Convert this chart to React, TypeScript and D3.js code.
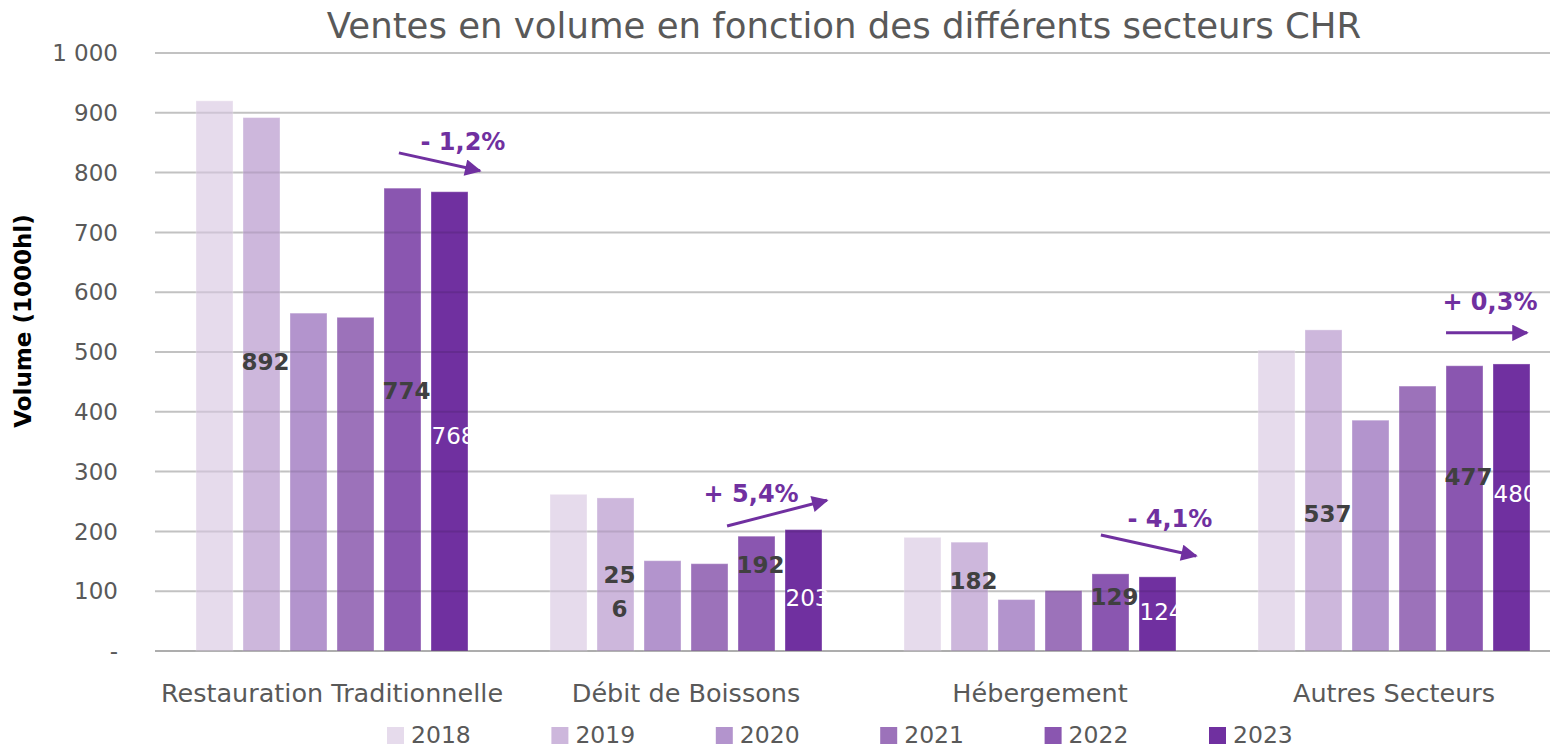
import React from "react";
import * as d3 from "d3";

const categories = ["Restauration Traditionnelle", "Débit de Boissons", "Hébergement", "Autres Secteurs"];
const years = ["2018", "2019", "2020", "2021", "2022", "2023"];
const v2018 = [920, 262, 190, 503];
const v2019 = [892, 256, 182, 537];
const v2020 = [565, 151, 86, 386];
const v2021 = [558, 146, 101, 443];
const v2022 = [774, 192, 129, 477];
const v2023 = [768, 203, 124, 480];
const seriesValues = [v2018, v2019, v2020, v2021, v2022, v2023];
const yTicks = [0, 100, 200, 300, 400, 500, 600, 700, 800, 900, 1000];
const yTickLabels = ["-", "100", "200", "300", "400", "500", "600", "700", "800", "900", "1 000"];
const colors = ["#E6DBEC", "#CDB7DC", "#B394CD", "#9C72BA", "#8A56B0", "#7030A0"];
// labels shown for 2019, 2022, 2023 (anchor in data units)
const labelYears = [1, 4, 5];
const labelTexts = [
  [["892"], ["25", "6"], ["182"], ["537"]],
  [["774"], ["192"], ["129"], ["477"]],
  [["768"], ["203"], ["124"], ["480"]],
];
const labelAnchor = [
  [483, 99, 117, 229],
  [436, 144, 90, 291],
  [360, 89, 65, 263],
];
const trendTexts = ["- 1,2%", "+ 5,4%", "- 4,1%", "+ 0,3%"];
// arrow as fractions of band width and data values
const arrowX0 = [0.689, 0.616, 0.672, 0.647];
const arrowX1 = [0.918, 0.898, 0.941, 0.876];
const arrowY0 = [833, 209, 194, 532];
const arrowY1 = [803, 252, 159, 532];
const trendTextX = [0.87, 0.684, 0.867, 0.771];
const trendTextY = [853, 264, 221, 584];

const W = 1565, H = 748;
const FONT = "'DejaVu Sans', sans-serif";

export default function App() {
  const x0 = d3.scaleBand<string>().domain(categories).range([155, 1571]).padding(0);
  const bw = x0.bandwidth();
  const x1 = d3.scaleBand<string>().domain(years).range([36, bw - 36]).paddingInner(0.2128).paddingOuter(0.1064);
  const y = d3.scaleLinear().domain([0, 1000]).range([651, 53]);
  const purple = "#7030A0";

  return (
    <svg width={W} height={H} style={{ position: "absolute", left: 0, top: 0, background: "#fff" }} fontFamily={FONT}>
      <defs>
        <marker id="ah" viewBox="0 0 10 10" refX="9" refY="5" markerWidth="6" markerHeight="5.5" markerUnits="strokeWidth" orient="auto">
          <path d="M0,0 L10,5 L0,10 z" fill={purple} />
        </marker>
      </defs>
      <text x={844} y={38} textAnchor="middle" fontSize={35.5} fill="#595959">
        Ventes en volume en fonction des différents secteurs CHR
      </text>
      {yTicks.map((t, i) => (
        <line key={"g" + i} x1={155} x2={1550} y1={y(t)} y2={y(t)} stroke="#D9D9D9" strokeWidth={2} />
      ))}
      {categories.map((c, ci) => (
        <g key={c} transform={`translate(${x0(c)},0)`}>
          {years.map((yr, si) => (
            <rect key={yr} x={x1(yr)} width={x1.bandwidth()} y={y(seriesValues[si][ci])}
              height={y(0) - y(seriesValues[si][ci])} fill={colors[si]} stroke="#ffffff" strokeOpacity={0.35} strokeWidth={1} />
          ))}
        </g>
      ))}
      {yTicks.map((t, i) => (
        <line key={"go" + i} x1={155} x2={1550} y1={y(t)} y2={y(t)} stroke="#000" strokeOpacity={i === 0 ? 0.2 : 0.1} strokeWidth={2} />
      ))}
      {yTicks.map((t, i) => (
        <text key={"t" + i} x={118} y={y(t)} dy="0.36em" textAnchor="end" fontSize={23} fill="#595959">{yTickLabels[i]}</text>
      ))}
      <text transform={`translate(31,321) rotate(-90)`} textAnchor="middle" fontSize={23} fontWeight={700} fill="#000">Volume (1000hl)</text>
      {categories.map((c) => (
        <text key={"c" + c} x={(x0(c) as number) + bw / 2} y={702} textAnchor="middle" fontSize={25.5} fill="#595959">{c}</text>
      ))}
      {labelYears.map((si, li) => categories.map((c, ci) => {
        const cx = (x0(c) as number) + (x1(years[si]) as number) + x1.bandwidth() / 2 + 4;
        const lines = labelTexts[li][ci];
        const white = si === 5;
        return (
          <text key={`l${li}-${ci}`} x={cx} y={y(labelAnchor[li][ci])} textAnchor="middle" fontSize={23}
            fontWeight={white ? 400 : 700} fill={white ? "#fff" : "#404040"}>
            {lines.map((ln, k) => (
              <tspan key={k} x={cx} dy={k === 0 ? `${0.36 - (lines.length - 1) * 0.75}em` : "1.5em"}>{ln}</tspan>
            ))}
          </text>
        );
      }))}
      {categories.map((c, ci) => {
        const bx = x0(c) as number;
        return (
          <g key={"a" + ci}>
            <line x1={bx + arrowX0[ci] * bw} y1={y(arrowY0[ci])} x2={bx + arrowX1[ci] * bw} y2={y(arrowY1[ci])}
              stroke={purple} strokeWidth={3} markerEnd="url(#ah)" />
            <text x={bx + trendTextX[ci] * bw} y={y(trendTextY[ci])} dy="0.36em" textAnchor="middle" fontSize={24} fontWeight={700} fill={purple}>{trendTexts[ci]}</text>
          </g>
        );
      })}
      {years.map((yr, i) => (
        <g key={"lg" + yr} transform={`translate(${387 + i * 164.4},727)`}>
          <rect x={0} y={0} width={17} height={17} fill={colors[i]} />
          <text x={24} y={7.5} dy="0.36em" fontSize={23.5} fill="#595959">{yr}</text>
        </g>
      ))}
    </svg>
  );
}
